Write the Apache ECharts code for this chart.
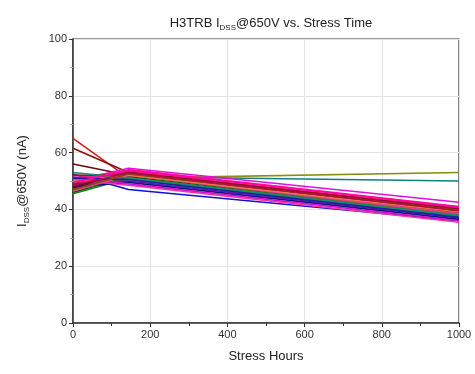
<!DOCTYPE html>
<html>
<head>
<meta charset="utf-8">
<script src="https://cdn.jsdelivr.net/npm/echarts@6/dist/echarts.min.js"></script>
<style>
  html, body { margin: 0; padding: 0; background: #fff; }
  #chart { width: 475px; height: 374px; }
</style>
</head>
<body>
<div id="chart"></div>
<script>
// read points (stress hours)
var hours = [0, 144, 1000];

// one device per line: IDSS at each read point (nA)
var devices = [
  [65, 51, 38],
  [61.5, 53, 39],
  [56, 52, 38.5],
  [52.5, 47, 36],
  [49, 51, 53],
  [52, 51.5, 50],
  [50, 54.5, 42.5],
  [48, 54, 41],
  [51, 53.5, 40],
  [49, 53, 40.5],
  [50, 53, 39.5],
  [48.5, 52, 39],
  [47.5, 52.5, 38.5],
  [46, 51.5, 38],
  [45.5, 51, 38],
  [47, 50.5, 37.5],
  [47, 51, 38.2],
  [49, 50, 37],
  [48, 49.5, 36.5],
  [50.5, 48.5, 35.5],
  [51.5, 49, 36],
  [52, 52, 39],
  [48, 53, 40],
  [46.5, 52, 38.5],
  [53, 51, 37.8],
  [50, 52, 39.2],
  [51, 50.5, 37.2],
  [47, 52.5, 39.8],
  [49.5, 53.8, 40.8],
  [48.5, 52.8, 39.5]
];

var lineColors = [
  '#d42020', '#8b1010', '#6b0a0a', '#1010e0', '#8c8c10', '#108080',
  '#e010e0', '#ff1493', '#f0207a', '#e01830', '#c8102e', '#101010',
  '#2a2a2a', '#0a5a0a', '#208020', '#2e8b2e', '#5a6a10', '#7010c0',
  '#101080', '#ff3399', '#d010d0', '#cc0000', '#800020', '#e0408a',
  '#109070', '#f07050', '#2020a0', '#8b4513', '#ff00aa', '#b01040'
];

var myChart = echarts.init(document.getElementById('chart'));
var option;

var series = devices.map(function (d, i) {
  return {
    type: 'line',
    data: hours.map(function (h, k) { return [h, d[k]]; }),
    showSymbol: false,
    symbol: 'none',
    silent: true,
    lineStyle: { width: 1.6, color: lineColors[i % lineColors.length] },
    z: 2
  };
});

var richText = {
  a: { fontSize: 13, color: '#222', fontWeight: 'normal', fontFamily: 'Liberation Sans' },
  b: { fontSize: 8, color: '#222', fontWeight: 'normal', fontFamily: 'Liberation Sans', padding: [10, 0, 0, 0] }
};

option = {
  animation: false,
  backgroundColor: '#fff',
  textStyle: { fontFamily: 'Liberation Sans, Arial, sans-serif' },
  title: {
    text: '{a|H3TRB I}{b|DSS}{a|@650V vs. Stress Time}',
    left: 266,
    top: 9,
    textAlign: 'center',
    textStyle: { fontWeight: 'normal', rich: richText }
  },
  grid: {
    left: 73,
    right: 16,
    top: 39,
    bottom: 51,
    show: true,
    borderColor: '#333',
    borderWidth: 1.2
  },
  xAxis: {
    type: 'value',
    min: 0,
    max: 1000,
    interval: 200,
    name: 'Stress Hours',
    nameLocation: 'middle',
    nameGap: 27,
    nameTextStyle: { fontSize: 13, color: '#222' },
    axisLine: { show: true, lineStyle: { color: '#333', width: 1.5 } },
    axisTick: { show: true, length: 4, lineStyle: { color: '#333' } },
    minorTick: { show: true, splitNumber: 2, length: 3, lineStyle: { color: '#333' } },
    axisLabel: { fontSize: 11, color: '#333', margin: 6, formatter: function (v) { return String(v); } },
    splitLine: { show: true, lineStyle: { color: '#e4e4e4', width: 1 } }
  },
  yAxis: {
    type: 'value',
    min: 0,
    max: 100,
    interval: 20,
    name: '{a|I}{b|DSS}{a|@650V (nA)}',
    nameLocation: 'middle',
    nameGap: 42,
    nameTextStyle: { fontWeight: 'normal', rich: richText },
    axisLine: { show: true, lineStyle: { color: '#333', width: 1.5 } },
    axisTick: { show: true, length: 4, lineStyle: { color: '#333' } },
    minorTick: { show: true, splitNumber: 2, length: 3, lineStyle: { color: '#aaa' } },
    axisLabel: { fontSize: 11, color: '#333', margin: 6 },
    splitLine: { show: true, lineStyle: { color: '#e4e4e4', width: 1 } }
  },
  series: series
};

option && myChart.setOption(option);
</script>
</body>
</html>
